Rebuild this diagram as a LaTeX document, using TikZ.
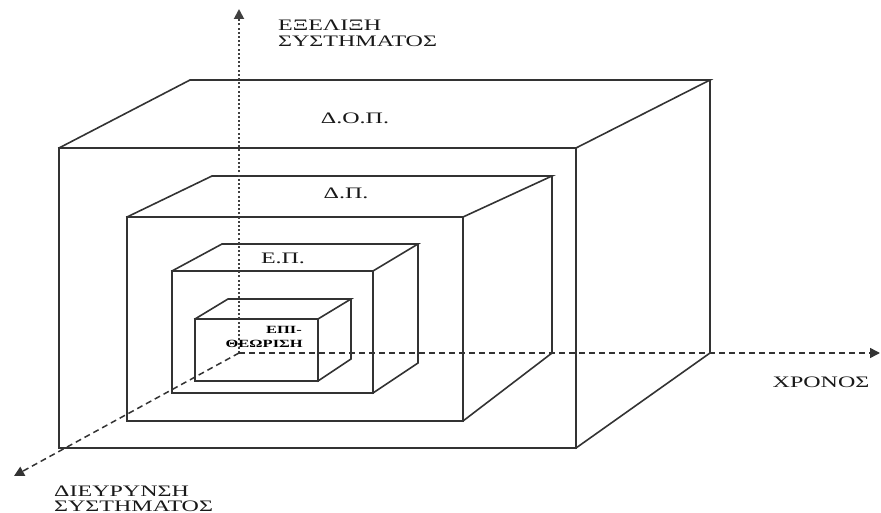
\documentclass[tikz,border=0pt]{standalone}
\usepackage{fontspec}
\setmainfont{Liberation Serif}
\usetikzlibrary{arrows.meta}
\newcommand{\wide}[1]{\scalebox{1.5}[1]{#1}}
\begin{document}
\begin{tikzpicture}[x=1pt,y=-1pt,
  edge/.style={line width=1.6pt, draw=black!80, line join=miter, line cap=rect},
  dotaxis/.style={line width=1.9pt, draw=black!75, dash pattern=on 2pt off 2.2pt, -{Triangle[length=10pt,width=10pt]}},
  dashaxis/.style={line width=1.5pt, draw=black!80, dash pattern=on 6pt off 4pt, -{Triangle[length=10pt,width=10pt]}},
  lab/.style={inner sep=0pt, text=black!90, font=\fontsize{16}{16}\selectfont},
  smalllab/.style={inner sep=0pt, text=black, font=\fontsize{11}{11}\selectfont\bfseries}]
\useasboundingbox (0,0) rectangle (881,513);
% outer cube
\coordinate (oA) at (59,148); \coordinate (oB) at (576,148);
\coordinate (oC) at (576,448); \coordinate (oD) at (59,448);
\coordinate (oE) at (190,80); \coordinate (oF) at (710,80);
\coordinate (oG) at (710,353);
\draw[edge] (oA) -- (oB) -- (oC) -- (oD) -- cycle;
\draw[edge] (oA) -- (oE) -- (oF) -- (oB);
\draw[edge] (oF) -- (oG) -- (oC);
% D.P. cube
\coordinate (dA) at (127,217); \coordinate (dB) at (463,217);
\coordinate (dC) at (463,421); \coordinate (dD) at (127,421);
\coordinate (dE) at (212,176); \coordinate (dF) at (552,176);
\coordinate (dG) at (552,353);
\draw[edge] (dA) -- (dB) -- (dC) -- (dD) -- cycle;
\draw[edge] (dA) -- (dE) -- (dF) -- (dB);
\draw[edge] (dF) -- (dG) -- (dC);
% E.P. cube
\coordinate (eA) at (172,271); \coordinate (eB) at (373,271);
\coordinate (eC) at (373,393); \coordinate (eD) at (172,393);
\coordinate (eE) at (222,244); \coordinate (eF) at (418,244);
\coordinate (eG) at (418,363);
\draw[edge] (eA) -- (eB) -- (eC) -- (eD) -- cycle;
\draw[edge] (eA) -- (eE) -- (eF) -- (eB);
\draw[edge] (eF) -- (eG) -- (eC);
% EPI cube
\coordinate (pA) at (195,319); \coordinate (pB) at (318,319);
\coordinate (pC) at (318,381); \coordinate (pD) at (195,381);
\coordinate (pE) at (228,299); \coordinate (pF) at (351,299);
\coordinate (pG) at (351,359);
\draw[edge] (pA) -- (pB) -- (pC) -- (pD) -- cycle;
\draw[edge] (pA) -- (pE) -- (pF) -- (pB);
\draw[edge] (pF) -- (pG) -- (pC);
% axes
\coordinate (O) at (239,353);
\coordinate (ytip) at (239,9);
\coordinate (xtip) at (880,353);
\coordinate (ztip) at (14,476);
\draw[dotaxis] (O) -- (ytip);
\draw[dashaxis] (O) -- (xtip);
\draw[dashaxis] (O) -- (ztip);
% labels
\node[lab, anchor=base west] (evo1) at (278,31) {\wide{ΕΞΕΛΙΞΗ}};
\node[lab, anchor=base west] (evo2) at (278,47) {\wide{ΣΥΣΤΗΜΑΤΟΣ}};
\node[lab, anchor=base] (dop) at (355,124) {\wide{Δ.Ο.Π.}};
\node[lab, anchor=base] (dp) at (346,199) {\wide{Δ.Π.}};
\node[lab, anchor=base] (ep) at (283,263) {\wide{Ε.Π.}};
\node[smalllab, anchor=base east] (epi1) at (302,333) {\wide{ΕΠΙ-}};
\node[smalllab, anchor=base east] (epi2) at (303,347) {\wide{ΘΕΩΡΙΣΗ}};
\node[lab, anchor=base] (time) at (821,387) {\wide{ΧΡΟΝΟΣ}};
\node[lab, anchor=base west] (dev1) at (54,496) {\wide{ΔΙΕΥΡΥΝΣΗ}};
\node[lab, anchor=base west] (dev2) at (54,511) {\wide{ΣΥΣΤΗΜΑΤΟΣ}};
\end{tikzpicture}
\end{document}
